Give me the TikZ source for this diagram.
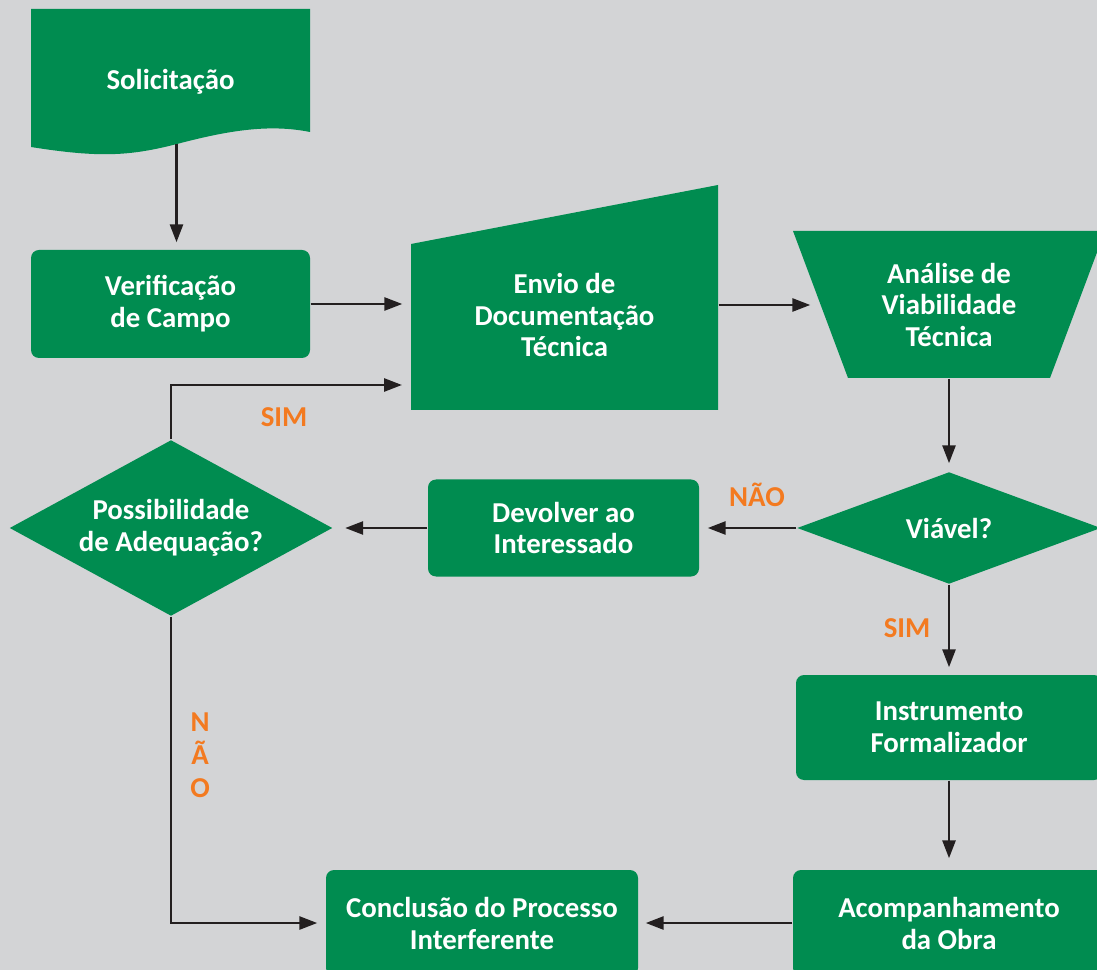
\documentclass[tikz,border=0pt]{standalone}
\usepackage{fontspec}
\setmainfont{Carlito}
\usetikzlibrary{shapes.geometric,arrows.meta}
\definecolor{verde}{RGB}{0,140,80}
\definecolor{cinza}{RGB}{211,212,214}
\definecolor{laranja}{RGB}{243,122,32}
\definecolor{linha}{RGB}{35,31,32}

\begin{document}
\begin{tikzpicture}[x=0.1mm,y=-0.1mm]
  \tikzset{ txt/.style={text=white,font=\bfseries\fontsize{8.2}{9.1}\selectfont,align=center,inner sep=0pt},
    caixa/.style={txt,rectangle,rounded corners=0.8mm,fill=verde},
    losango/.style={txt,diamond,fill=verde},
    resp/.style={text=laranja,font=\bfseries\fontsize{8.2}{9.4}\selectfont,align=center,inner sep=0pt},
    seta/.style={draw=linha,line width=0.27mm,-{Triangle[length=1.8mm,width=1.3mm]}},
  }

  \clip (0,0) rectangle (1097,970);
  \fill[cinza] (0,0) rectangle (1097,970);

  \fill[verde] (31,9) -- (310,9) -- (310,132) .. controls (270,124) and (230,130) .. (177,144)
    .. controls (130,156) and (100,158) .. (31,147) -- cycle;
  \fill[verde] (411,244) -- (718,185) -- (718,410) -- (411,410) -- cycle;
  \fill[verde] (793,231) -- (1105,231) -- (1050,378) -- (848,378) -- cycle;

  \node[txt,minimum width=27.9mm,minimum height=12.2mm] (sol) at (170.5,82) {Solicitação};
  \node[caixa,minimum width=27.9mm,minimum height=10.8mm] (verif) at (170.5,304) {Verificação\\de Campo};
  \node[txt,minimum width=30.7mm] (envio) at (564.5,315) {Envio de\\Documentação\\Técnica};
  \node[txt,minimum width=25.8mm,minimum height=14.6mm] (analise) at (949,305) {Análise de\\Viabilidade\\Técnica};
  \node[losango,aspect=2.6,minimum width=30.4mm,minimum height=11.2mm] (viavel) at (949,528) {Viável?};
  \node[caixa,minimum width=27.1mm,minimum height=9.7mm] (devolver) at (563.5,528) {Devolver ao\\Interessado};
  \node[losango,aspect=1.8,minimum width=32.3mm,minimum height=17.6mm] (possib) at (171,528) {Possibilidade\\de Adequação?};
  \node[caixa,minimum width=30.6mm,minimum height=10.5mm] (instr) at (949,727.5) {Instrumento\\Formalizador};
  \node[caixa,minimum width=31.2mm,minimum height=10.6mm] (acomp) at (949,923) {Acompanhamento\\da Obra};
  \node[caixa,minimum width=31.2mm,minimum height=10.6mm] (concl) at (482,923) {Conclusão do Processo\\Interferente};

  \coordinate (retorno) at (411,385);

  \draw[seta,shorten >=0.7mm] ([xshift=0.6mm]sol.south) -- ([xshift=0.6mm]verif.north);
  \draw[seta,shorten >=0.8mm] (verif.east) -- (verif.east -| envio.west);
  \draw[seta,shorten >=0.9mm] (analise.west -| envio.east) -- (analise.west);
  \draw[seta,shorten >=0.8mm] (analise.south) -- (viavel.north);
  \draw[seta,shorten >=0.8mm] (viavel.west) -- (devolver.east);
  \draw[seta,shorten >=1.2mm] (devolver.west) -- (possib.east);
  \draw[seta,shorten >=0.9mm] (possib.north) |- (retorno);
  \draw[seta,shorten >=0.8mm] (possib.south) |- (concl.west);
  \draw[seta,shorten >=0.7mm] (viavel.south) -- (instr.north);
  \draw[seta,shorten >=1.1mm] (instr.south) -- (acomp.north);
  \draw[seta,shorten >=0.7mm] (acomp.west) -- (concl.east);

  \node[resp] (nao1) at (757,495) {NÃO};
  \node[resp] (sim1) at (284,417) {SIM};
  \node[resp] (sim2) at (907,628) {SIM};
  \node[resp] (nao2) at (200,755) {N\\Ã\\O};
\end{tikzpicture}
\end{document}
